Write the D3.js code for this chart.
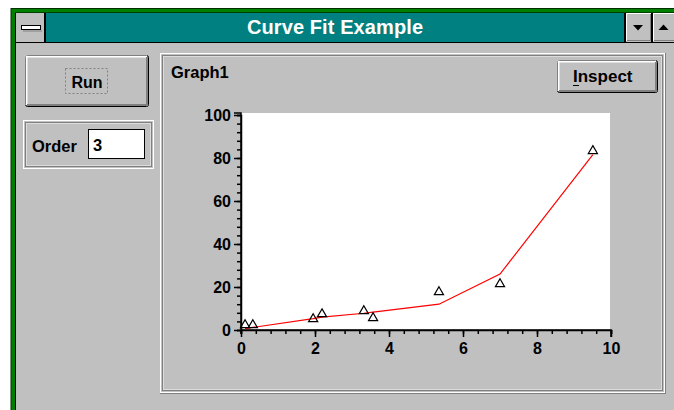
<!DOCTYPE html>
<html><head><meta charset="utf-8">
<script src="https://cdn.jsdelivr.net/npm/d3@7"></script>
<style>
html,body{margin:0;padding:0;background:#fff;}
svg{display:block;}
text{font-family:"Liberation Sans",Arial,sans-serif;font-weight:bold;}
</style></head>
<body>
<svg id="c" width="674" height="410"></svg>
<script>
// ---- data ----
const xData = [0.11, 0.32, 1.95, 2.19, 3.32, 3.57, 5.35, 7.0, 9.51];
const yData = [2.3, 2.3, 5.1, 7.4, 8.8, 5.6, 17.7, 21.4, 83.3];
const yFit  = [0.6, 1.2, 5.3, 6.0, 7.8, 8.3, 12.0, 26.0, 81.6];
const xTicks = [0, 2, 4, 6, 8, 10];
const yTicks = [0, 20, 40, 60, 80, 100];
const xMinor = d3.range(0, 10.001, 0.4);
const yMinor = d3.range(0, 100.001, 4);
const windowTitle = "Curve Fit Example";
const graphName = "Graph1";
const orderValue = "3";

const svg = d3.select("#c");

// ---- window chrome ----
svg.append("rect").attr("x",11).attr("y",8.5).attr("width",700).attr("height",420).attr("fill","#008000").attr("stroke","#003000").attr("stroke-width",1);
svg.append("rect").attr("x",15).attr("y",12.5).attr("width",700).attr("height",420).attr("fill","#000");
svg.append("rect").attr("x",16).attr("y",43).attr("width",680).attr("height",400).attr("fill","#c0c0c0");
// title bar
svg.append("rect").attr("x",46).attr("y",13).attr("width",578).attr("height",29).attr("fill","#008080");
svg.append("text").attr("x",335).attr("y",34).attr("text-anchor","middle").attr("fill","#fff")
  .style("font-size","20px").style("font-weight","bold").attr("textLength",176).text(windowTitle);
// system menu box
svg.append("rect").attr("x",16).attr("y",13).attr("width",28).attr("height",29).attr("fill","#c0c0c0");
svg.append("rect").attr("x",21.5).attr("y",25.5).attr("width",19).attr("height",4).attr("fill","#fff").attr("stroke","#000");
svg.append("line").attr("x1",23).attr("x2",42).attr("y1",31).attr("y2",31).attr("stroke","#808080");
// min/max buttons
function tbButton(x, w, up){
  svg.append("rect").attr("x",x).attr("y",13).attr("width",w).attr("height",29).attr("fill","#c0c0c0");
  svg.append("path").attr("d",`M${x+0.5},41 V13.5 H${x+w}`).attr("fill","none").attr("stroke","#fff");
  svg.append("path").attr("d",`M${x+1},40.5 H${x+w-0.5} V14`).attr("fill","none").attr("stroke","#808080");
  const cx = x + w/2 - 0.5, cy = 27.5;
  const d = up ? `M${cx-5},${cy+2.5} L${cx+5},${cy+2.5} L${cx},${cy-3} Z` : `M${cx-5},${cy-2.5} L${cx+5},${cy-2.5} L${cx},${cy+3} Z`;
  svg.append("path").attr("d",d).attr("fill","#000");
}
tbButton(626, 25, false);
tbButton(653, 22, true);

// ---- buttons ----
function button(x, y, w, h){
  svg.append("rect").attr("x",x+0.5).attr("y",y+0.5).attr("width",w).attr("height",h).attr("rx",2).attr("fill","#c0c0c0").attr("stroke","#000");
  svg.append("path").attr("d",`M${x+1.5},${y+h-1} V${y+1.5} H${x+w-1}`).attr("fill","none").attr("stroke","#fff").attr("stroke-width",2);
  svg.append("path").attr("d",`M${x+2},${y+h-1} H${x+w-1} V${y+2}`).attr("fill","none").attr("stroke","#808080").attr("stroke-width",2);
}
button(25, 55, 123, 51);
svg.append("text").attr("x",87).attr("y",88).attr("text-anchor","middle").style("font-size","16px").attr("fill","#000").text("Run");
svg.append("rect").attr("x",65.5).attr("y",68.5).attr("width",42).attr("height",25).attr("fill","none").attr("stroke","#808080").attr("stroke-dasharray","2,2");

// order group
function frame(x, y, w, h){
  svg.append("rect").attr("x",x+0.5).attr("y",y+0.5).attr("width",w-1).attr("height",h-1).attr("fill","none").attr("stroke","#fff").attr("stroke-width",1);
  svg.append("rect").attr("x",x+2.5).attr("y",y+2.5).attr("width",w-5).attr("height",h-5).attr("fill","none").attr("stroke","#808080").attr("stroke-width",1);
  svg.append("rect").attr("x",x+3.5).attr("y",y+3.5).attr("width",w-7).attr("height",h-7).attr("fill","none").attr("stroke","#dcdcdc").attr("stroke-width",1);
}
frame(23, 120, 131, 49);
svg.append("text").attr("x",32).attr("y",152).style("font-size","16.5px").attr("fill","#000").text("Order");
svg.append("rect").attr("x",88.5).attr("y",129.5).attr("width",56).attr("height",29).attr("fill","#fff").attr("stroke","#000");
svg.append("text").attr("x",93).attr("y",151).style("font-size","16.5px").attr("fill","#000").text(orderValue);

// graph panel
frame(160, 53, 505, 340);
svg.append("line").attr("x1",160).attr("x2",666).attr("y1",393.5).attr("y2",393.5).attr("stroke","#808080");
svg.append("line").attr("x1",665.5).attr("x2",665.5).attr("y1",53).attr("y2",394).attr("stroke","#808080");
svg.append("text").attr("x",171).attr("y",78).style("font-size","16.5px").attr("fill","#000").text(graphName);
button(557, 60, 100, 32);
svg.append("text").attr("x",573).attr("y",82).style("font-size","17px").attr("fill","#000").text("Inspect");
svg.append("line").attr("x1",573).attr("x2",579).attr("y1",85.5).attr("y2",85.5).attr("stroke","#000");

// ---- plot ----
const x = d3.scaleLinear().domain([0,10]).range([241,611]);
const y = d3.scaleLinear().domain([0,100]).range([330,115]);

svg.append("rect").attr("x",x(0)).attr("y",y(100)-2).attr("width",x(10)-x(0)-1).attr("height",y(0)-y(100)+2).attr("fill","#fff");

const font = "16px";
// y axis
const yAxis = d3.axisLeft(y).tickValues(yTicks).tickSize(7).tickPadding(3).tickFormat(d3.format("d"));
const yMin = d3.axisLeft(y).tickValues(yMinor).tickSize(4).tickFormat("");
const gyMin = svg.append("g").attr("transform",`translate(${x(0)},0)`).call(yMin);
const gy = svg.append("g").attr("transform",`translate(${x(0)},0)`).call(yAxis);
// x axis
const xAxis = d3.axisBottom(x).tickValues(xTicks).tickSize(7).tickPadding(6).tickFormat(d3.format("d"));
const xMin = d3.axisBottom(x).tickValues(xMinor).tickSize(4).tickFormat("");
const gxMin = svg.append("g").attr("transform",`translate(0,${y(0)})`).call(xMin);
const gx = svg.append("g").attr("transform",`translate(0,${y(0)})`).call(xAxis);
[gy, gx, gyMin, gxMin].forEach(g=>{
  g.select(".domain").attr("stroke","#000").attr("stroke-width",1.5);
  g.selectAll(".tick line").attr("stroke","#000").attr("stroke-width",1.5);
  g.selectAll(".tick text").attr("fill","#000").style("font-size",font).style("font-family","'Liberation Sans',Arial,sans-serif").style("font-weight","bold");
});
gy.select(".domain").attr("d",`M-7,${y(100)-2}H0V${y(0)+4}`);
gx.select(".domain").attr("d",`M${x(0)},0H${x(10)}V7`);

// fit line
const line = d3.line().x((d,i)=>x(xData[i])).y(d=>y(d));
svg.append("path").datum(yFit).attr("d",line).attr("fill","none").attr("stroke","#ff0000").attr("stroke-width",1.2);

// data markers
svg.append("g").selectAll("path").data(yData).join("path")
  .attr("transform",(d,i)=>`translate(${x(xData[i])},${y(d)})`)
  .attr("d",d3.symbol(d3.symbolTriangle,36))
  .attr("fill","none").attr("stroke","#000").attr("stroke-width",1.2);
</script>
</body></html>
